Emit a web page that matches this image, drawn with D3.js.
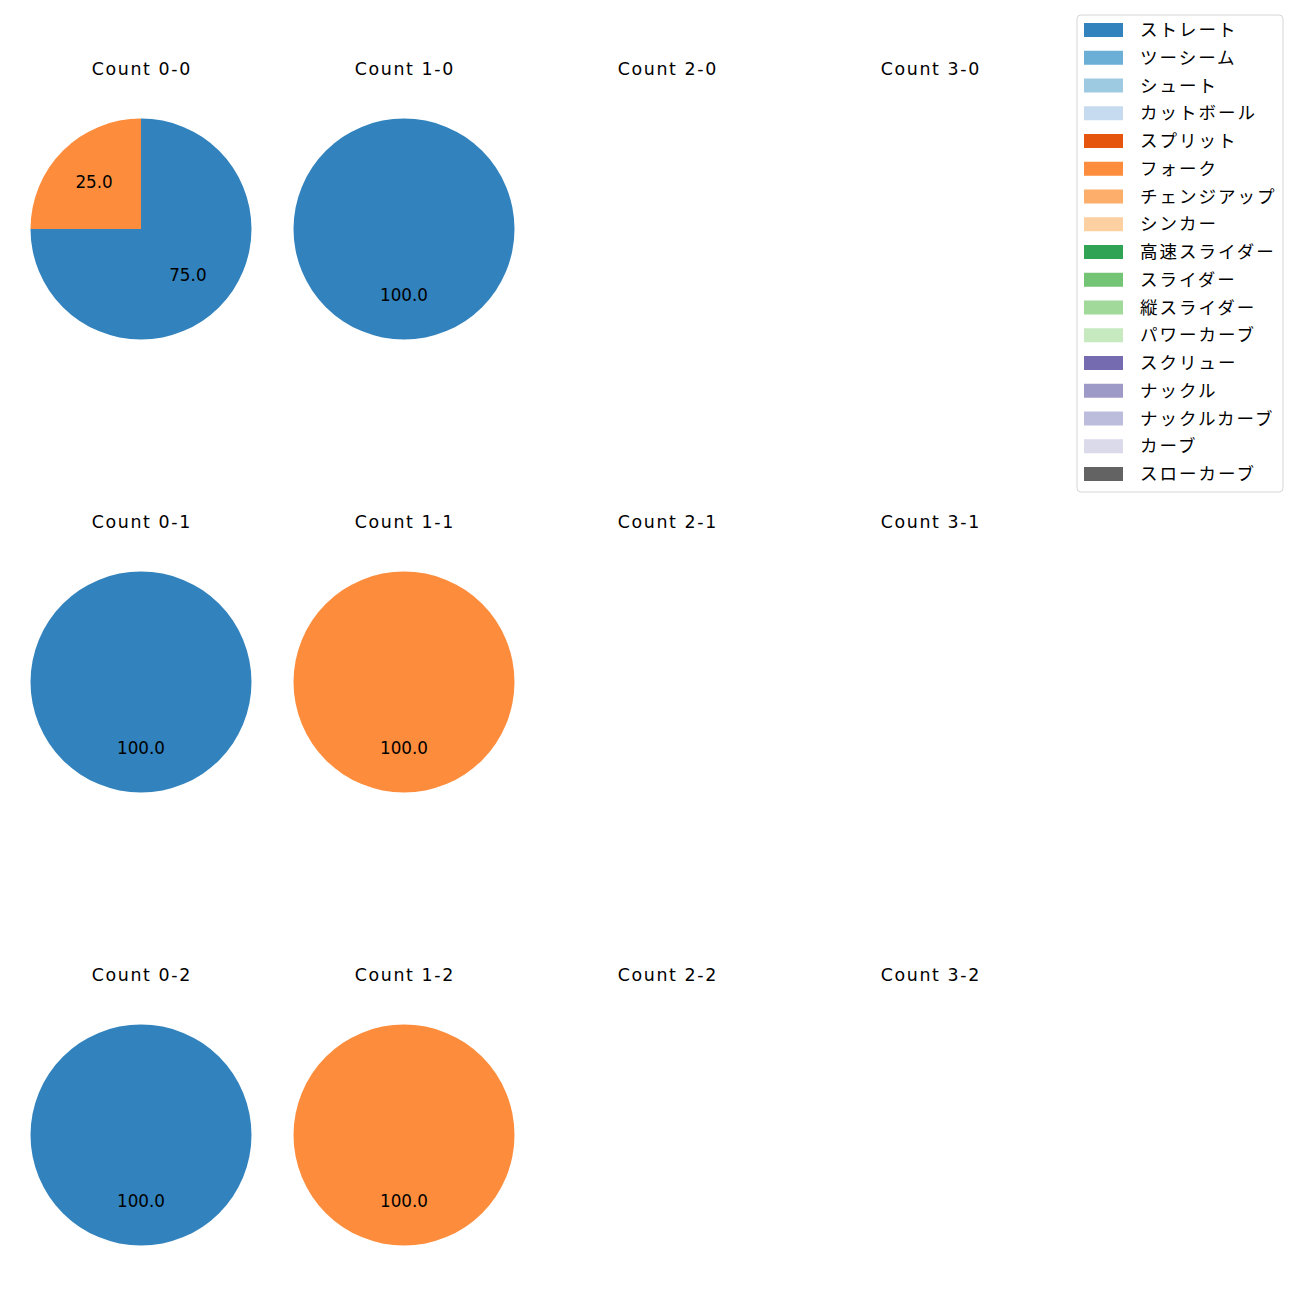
<!DOCTYPE html>
<html lang="ja">
<head>
<meta charset="UTF-8">
<title>Count pies</title>
<script src="https://d3js.org/d3.v7.min.js"></script>
<style>
  body { margin: 0; background: #fff; }
  text { font-family: "Noto Sans CJK JP", sans-serif; }
  text.latin { font-family: "DejaVu Sans", sans-serif; }
</style>
</head>
<body>
<svg id="chart"></svg>
<script>
var pitchTypes = ["ストレート", "ツーシーム", "シュート", "カットボール", "スプリット", "フォーク",
                  "チェンジアップ", "シンカー", "高速スライダー", "スライダー", "縦スライダー",
                  "パワーカーブ", "スクリュー", "ナックル", "ナックルカーブ", "カーブ", "スローカーブ"];
var pitchColors = ["#3182bd", "#6baed6", "#9ecae1", "#c6dbef", "#e6550d", "#fd8d3c",
                   "#fdae6b", "#fdd0a2", "#31a354", "#74c476", "#a1d99b",
                   "#c7e9c0", "#756bb1", "#9e9ac8", "#bcbddc", "#dadaeb", "#636363"];
var balls = [0, 1, 2, 3];
var strikes = [0, 1, 2];
// pitch counts per ball-strike cell, keyed "balls-strikes"
var countData = {
  "0-0": { "ストレート": 3, "フォーク": 1 },
  "1-0": { "ストレート": 1 },
  "0-1": { "ストレート": 1 },
  "1-1": { "フォーク": 1 },
  "0-2": { "ストレート": 1 },
  "1-2": { "フォーク": 1 }
};

var width = 1300, height = 1300;
var svg = d3.select("#chart").attr("width", width).attr("height", height);

var color = d3.scaleOrdinal().domain(pitchTypes).range(pitchColors);
var xPos = d3.scalePoint().domain(balls).range([141, 930]);
var yPos = d3.scalePoint().domain(strikes).range([229, 1135]);
var radius = 110.5;

var pie = d3.pie().sort(null).value(function(d) { return d.value; });
var arc = d3.arc().innerRadius(0).outerRadius(radius);
var labelArc = d3.arc().innerRadius(radius * 0.6).outerRadius(radius * 0.6);

strikes.forEach(function(s) {
  balls.forEach(function(b) {
    var key = b + "-" + s;
    var g = svg.append("g")
               .attr("transform", "translate(" + xPos(b) + "," + yPos(s) + ")");
    g.append("text")
     .attr("class", "latin")
     .attr("y", -160)
     .attr("dx", 0.8)
     .attr("dy", "0.35em")
     .attr("text-anchor", "middle")
     .attr("font-size", "17.4px")
     .attr("letter-spacing", "1.6px")
     .text("Count " + key);

    var cell = countData[key];
    if (!cell) return;
    var rows = pitchTypes.filter(function(p) { return cell[p]; })
                         .map(function(p) { return { type: p, value: cell[p] }; });
    var total = d3.sum(rows, function(d) { return d.value; });
    var arcs = pie(rows);

    g.selectAll("path").data(arcs).enter().append("path")
     .attr("d", arc)
     .attr("fill", function(d) { return color(d.data.type); });

    g.selectAll("text.pct").data(arcs).enter().append("text")
     .attr("class", "pct latin")
     .attr("transform", function(d) { return "translate(" + labelArc.centroid(d) + ")"; })
     .attr("dy", "0.33em")
     .attr("text-anchor", "middle")
     .attr("font-size", "16.8px")
     .text(function(d) { return (d.value / total * 100).toFixed(1); });
  });
});

// legend
var legend = svg.append("g").attr("transform", "translate(1077,15)");
var rowY = d3.scaleLinear().domain([0, pitchTypes.length - 1]).range([15, 459]);

legend.append("rect")
      .attr("width", 206)
      .attr("height", 477)
      .attr("rx", 4)
      .attr("fill", "#fff")
      .attr("stroke", "#d6d6d6");

pitchTypes.forEach(function(p, i) {
  legend.append("rect")
        .attr("x", 7)
        .attr("y", rowY(i) - 7)
        .attr("width", 39)
        .attr("height", 14)
        .attr("fill", color(p));
  legend.append("text")
        .attr("x", 63)
        .attr("y", rowY(i))
        .attr("dy", "0.35em")
        .attr("font-size", "17.5px")
        .attr("letter-spacing", "2px")
        .text(p);
});
</script>
</body>
</html>
